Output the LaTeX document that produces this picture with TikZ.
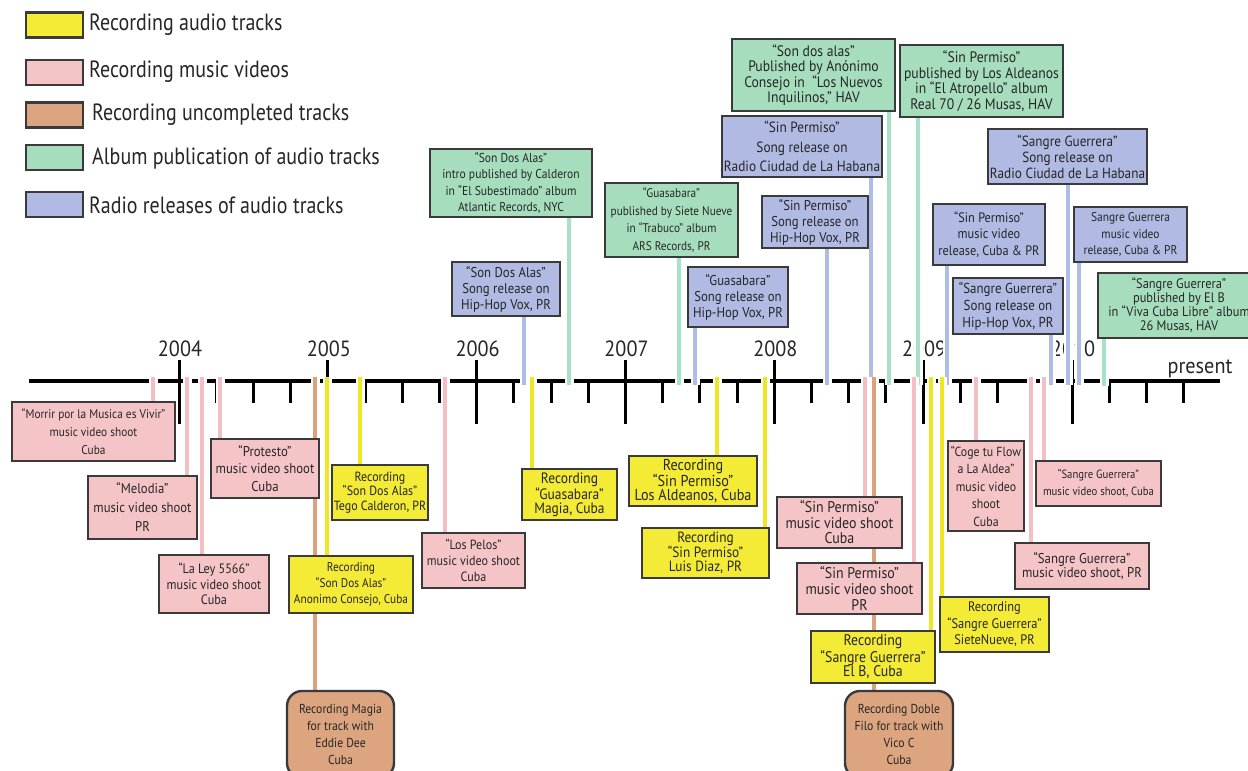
\documentclass[tikz,border=0pt]{standalone}
\usepackage{fontspec}
\newfontfamily\bxf[FakeStretch=0.9]{PT Sans}
\newfontfamily\lgf[FakeStretch=0.85]{PT Sans}
\newfontfamily\yrf[FakeStretch=0.92]{PT Sans}
\definecolor{yfill}{HTML}{F3EB35}
\definecolor{pfill}{HTML}{F5C4C6}
\definecolor{ofill}{HTML}{DCA57F}
\definecolor{gfill}{HTML}{A6DEBD}
\definecolor{bfill}{HTML}{B0BAE3}
\definecolor{yline}{HTML}{F0E624}
\definecolor{pline}{HTML}{F4BFC3}
\definecolor{oline}{HTML}{DCA27C}
\definecolor{gline}{HTML}{A8E2C6}
\definecolor{bline}{HTML}{AFBCE6}
\definecolor{bord}{HTML}{3A3A3A}
\definecolor{txt}{HTML}{262626}
\begin{document}
\begin{tikzpicture}[x=1pt,y=-1pt,
  box/.style={draw=bord, line width=2.4pt, inner sep=0pt, align=center, text=txt, font=\bxf},
  fs/.style 2 args={font=\bxf\fontsize{#1}{#2}\selectfont},
  wh/.style 2 args={minimum width=#1pt, minimum height=#2pt},
  Y/.style={box, fill=yfill},
  P/.style={box, fill=pfill},
  O/.style={box, fill=ofill, rounded corners=15pt},
  G/.style={box, fill=gfill},
  B/.style={box, fill=bfill},
  ghost/.style 2 args={minimum width=#1pt, minimum height=#2pt, inner sep=0pt, draw=none, fill=none},
  lbox/.style={draw=bord, line width=2.4pt, inner sep=0pt, minimum width=57pt, minimum height=25pt},
  ltxt/.style={anchor=west, inner sep=0pt, text=txt, font=\lgf\fontsize{23.5}{23.5}\selectfont},
  conn/.style={line width=3.5pt, preaction={draw=white, line width=9pt}},
  yc/.style={conn, draw=yline},
  pc/.style={conn, draw=pline},
  oc/.style={conn, draw=oline},
  gc/.style={conn, draw=gline},
  bc/.style={conn, draw=bline},
  tk/.style={line width=3pt, draw=black},
  yr/.style={anchor=base, inner sep=0pt, text=black!85, font=\yrf\fontsize{22}{22}\selectfont}]
\clip (0,0) rectangle (1248,771);
\fill[white] (0,0) rectangle (1248,771);

% legend
\node[lbox, fill=yfill] (ly) at (54.5,25) {};
\node[ltxt] (lyt) at (89,25) {Recording audio tracks};
\node[lbox, fill=pfill] (lp) at (54.5,72.5) {};
\node[ltxt] (lpt) at (89,72) {Recording music videos};
\node[lbox, fill=ofill] (lo) at (54.5,115) {};
\node[ltxt] (lot) at (92,115) {Recording uncompleted tracks};
\node[lbox, fill=gfill] (lg) at (54.5,157.5) {};
\node[ltxt] (lgt) at (92,158) {Album publication of audio tracks};
\node[lbox, fill=bfill] (lb) at (54.5,204.5) {};
\node[ltxt] (lbt) at (89,205) {Radio releases of audio tracks};

% axis
\coordinate (axL) at (29,381);
\coordinate (axR) at (1220,381);
\draw[line width=3.5pt] (axL) -- (axR);
\foreach \k in {0,...,27}{
  \pgfmathtruncatemacro\m{mod(\k,4)}
  \ifnum\m=0
    \draw[tk] ({179+37.21*\k},360) -- ({179+37.21*\k},424);
  \else
    \draw[tk] ({179+37.21*\k},381) -- ({179+37.21*\k},403);
  \fi
}
\foreach \y [count=\i from 0] in {2004,2005,2006,2007,2008,2009,2010}{
  \node[yr] (yr\i) at ({180+148.84*\i},356) {\y};
}
\node[yr] (pres) at (1200,373) {present};

% axis coordinates for connectors (above: ends at 385, below: starts at 377)
\coordinate (c1) at (569,385);
\coordinate (c2) at (524,385);
\coordinate (c3) at (679,385);
\coordinate (c4) at (695,385);
\coordinate (c5) at (889,385);
\coordinate (c6) at (871,385);
\coordinate (c7) at (918,385);
\coordinate (c8) at (1068,385);
\coordinate (c9) at (827,385);
\coordinate (c10) at (947,385);
\coordinate (c11) at (1051,385);
\coordinate (c12) at (1079,385);
\coordinate (c13) at (1104,386);
\coordinate (c14) at (153,377);
\coordinate (c15) at (187,377);
\coordinate (c16) at (202,377);
\coordinate (c17) at (220,377);
\coordinate (c18) at (360,377);
\coordinate (c19) at (327,377);
\coordinate (c20) at (315,377);
\coordinate (c21) at (445,377);
\coordinate (c22) at (532,377);
\coordinate (c23) at (717,377);
\coordinate (c24) at (765,377);
\coordinate (c25) at (865,377);
\coordinate (c26) at (914,377);
\coordinate (c27) at (931,377);
\coordinate (c28) at (942,377);
\coordinate (c29) at (874,377);
\coordinate (c30) at (976,377);
\coordinate (c31) at (1044,377);
\coordinate (c32) at (1031,377);

% box frames (invisible) used as connector targets; boxes are drawn on top later
\path
 node[ghost={162}{68}] (b1) at (511,183) {}
 node[ghost={108}{54}] (b2) at (506,289) {}
 node[ghost={133}{74}] (b3) at (671.5,220) {}
 node[ghost={100}{60}] (b4) at (738,297) {}
 node[ghost={163}{72}] (b5) at (813.5,75) {}
 node[ghost={160}{61}] (b6) at (802,146.5) {}
 node[ghost={163}{72}] (b7) at (981.5,81) {}
 node[ghost={159}{55}] (b8) at (1067.5,156.5) {}
 node[ghost={106}{52}] (b9) at (815,222) {}
 node[ghost={112}{61}] (b10) at (989,234.5) {}
 node[ghost={110}{56}] (b11) at (1008,306) {}
 node[ghost={113}{55}] (b12) at (1130.5,234.5) {}
 node[ghost={162}{65}] (b13) at (1179,305.5) {}
 node[ghost={163}{59}] (b14) at (93.5,431.5) {}
 node[ghost={109}{63}] (b15) at (142.5,507.5) {}
 node[ghost={110}{58}] (b16) at (214,584) {}
 node[ghost={108}{59}] (b17) at (265,468.5) {}
 node[ghost={96}{55}] (b18) at (380,492.5) {}
 node[ghost={124}{57}] (b19) at (351,584.5) {}
 node[ghost={107}{87}] (b20) at (340.5,734.5) {}
 node[ghost={103}{55}] (b21) at (473.5,560.5) {}
 node[ghost={95}{51}] (b22) at (569.5,494.5) {}
 node[ghost={128}{50}] (b23) at (693,481) {}
 node[ghost={127}{50}] (b24) at (705.5,553) {}
 node[ghost={125}{51}] (b25) at (839.5,522.5) {}
 node[ghost={125}{51}] (b26) at (859.5,588.5) {}
 node[ghost={124}{52}] (b27) at (873,657) {}
 node[ghost={109}{55}] (b28) at (994.5,624.5) {}
 node[ghost={108}{87}] (b29) at (899,734.5) {}
 node[ghost={76}{90}] (b30) at (986,486) {}
 node[ghost={125}{45}] (b31) at (1098.5,483.5) {}
 node[ghost={134}{46}] (b32) at (1082,566) {};

% connectors
\draw[gc] (b1.south -| c1) -- (c1);
\draw[bc] (b2.south -| c2) -- (c2);
\draw[gc] (b3.south -| c3) -- (c3);
\draw[bc] (b4.south -| c4) -- (c4);
\draw[bc] (b9.south -| c9) -- (c9);
\draw[bc] (b6.south -| c6) -- (c6);
\draw[gc] (b5.south -| c5) -- (c5);
\draw[gc] (b7.south -| c7) -- (c7);
\draw[bc] (b10.south -| c10) -- (c10);
\draw[bc] (b11.south -| c11) -- (c11);
\draw[bc] (b8.south -| c8) -- (c8);
\draw[bc] (b12.south -| c12) -- (c12);
\draw[gc] (b13.south -| c13) -- (c13);
\draw[pc] (c14) -- (c14 |- b14.north);
\draw[pc] (c15) -- (c15 |- b15.north);
\draw[pc] (c16) -- (c16 |- b16.north);
\draw[pc] (c17) -- (c17 |- b17.north);
\draw[oc] (c20) -- (c20 |- b20.north);
\draw[yc] (c19) -- (c19 |- b19.north);
\draw[yc] (c18) -- (c18 |- b18.north);
\draw[pc] (c21) -- (c21 |- b21.north);
\draw[yc] (c22) -- (c22 |- b22.north);
\draw[yc] (c23) -- (c23 |- b23.north);
\draw[yc] (c24) -- (c24 |- b24.north);
\draw[pc] (c25) -- (c25 |- b25.north);
\draw[oc] (c29) -- (c29 |- b29.north);
\draw[pc] (c26) -- (c26 |- b26.north);
\draw[yc] (c27) -- (c27 |- b27.north);
\draw[yc] (c28) -- (c28 |- b28.north);
\draw[pc] (c30) -- (c30 |- b30.north);
\draw[pc] (c32) -- (c32 |- b32.north);
\draw[pc] (c31) -- (c31 |- b31.north);

% boxes drawn
\node[G, wh={162}{68}, fs={12.9}{16.5}] at (b1) {“Son Dos Alas”\\intro published by Calderon\\in “El Subestimado” album\\Atlantic Records, NYC};
\node[B, wh={108}{54}, fs={14.2}{16}] at (b2) {“Son Dos Alas”\\Song release on\\Hip-Hop Vox, PR};
\node[G, wh={133}{74}, fs={12.5}{17.5}] at (b3) {“Guasabara”\\published by Siete Nueve\\in “Trabuco” album\\ARS Records, PR};
\node[B, wh={100}{60}, fs={14.2}{16}] at (b4) {“Guasabara”\\Song release on\\Hip-Hop Vox, PR};
\node[G, wh={163}{72}, fs={15.2}{15.5}] at (b5) {“Son dos alas”\\Published by Anónimo\\Consejo in \ “Los Nuevos\\Inquilinos,” HAV};
\node[B, wh={160}{61}, fs={14.8}{19.5}] at (b6) {“Sin Permiso”\\Song release on\\Radio Ciudad de La Habana};
\node[G, wh={163}{72}, fs={15.2}{15.5}] at (b7) {“Sin Permiso”\\published by Los Aldeanos\\in “El Atropello” album\\Real 70 / 26 Musas, HAV};
\node[B, wh={159}{55}, fs={14.7}{16}] at (b8) {“Sangre Guerrera”\\Song release on\\Radio Ciudad de La Habana};
\node[B, wh={106}{52}, fs={14.2}{16}] at (b9) {“Sin Permiso”\\Song release on\\Hip-Hop Vox, PR};
\node[B, wh={112}{61}, fs={13.7}{16.7}] at (b10) {“Sin Permiso”\\music video\\release, Cuba \& PR};
\node[B, wh={110}{56}, fs={14.4}{17}] at (b11) {“Sangre Guerrera”\\Song release on\\Hip-Hop Vox, PR};
\node[B, wh={113}{55}, fs={12.7}{16.7}] at (b12) {Sangre Guerrera\\music video\\release, Cuba \& PR};
\node[G, wh={162}{65}, fs={13.8}{14}] at (b13) {“Sangre Guerrera”\\published by El B\\in “Viva Cuba Libre” album\\26 Musas, HAV};
\node[P, wh={163}{59}, fs={12.6}{18}] at (b14) {“Morrir por la Musica es Vivir”\\music video shoot\\Cuba};
\node[P, wh={109}{63}, fs={14.1}{19}] at (b15) {“Melodia”\\music video shoot\\PR};
\node[P, wh={110}{58}, fs={13.6}{15.5}] at (b16) {“La Ley 5566”\\music video shoot\\Cuba};
\node[P, wh={108}{59}, fs={14.2}{17.5}] at (b17) {“Protesto”\\music video shoot\\Cuba};
\node[Y, wh={96}{55}, fs={13.3}{14.5}] at (b18) {Recording\\“Son Dos Alas”\\Tego Calderon, PR};
\node[Y, wh={124}{57}, fs={12.6}{16}] at (b19) {Recording\\“Son Dos Alas”\\Anonimo Consejo, Cuba};
\node[O, wh={107}{87}, fs={13}{17}] at (b20) {Recording Magia\\for track with\\Eddie Dee\\Cuba};
\node[P, wh={103}{55}, fs={13.4}{16}] at (b21) {“Los Pelos”\\music video shoot\\Cuba};
\node[Y, wh={95}{51}, fs={15}{14}] at (b22) {Recording\\“Guasabara”\\Magia, Cuba};
\node[Y, wh={128}{50}, fs={15.8}{14}] at (b23) {Recording\\“Sin Permiso”\\Los Aldeanos, Cuba};
\node[Y, wh={127}{50}, fs={14.8}{14}] at (b24) {Recording\\“Sin Permiso”\\Luis Diaz, PR};
\node[P, wh={125}{51}, fs={15.5}{15.5}] at (b25) {“Sin Permiso”\\music video shoot\\Cuba};
\node[P, wh={125}{51}, fs={15.5}{16}] at (b26) {“Sin Permiso”\\music video shoot\\PR};
\node[Y, wh={124}{52}, fs={15.4}{14.5}] at (b27) {Recording\\“Sangre Guerrera”\\El B, Cuba};
\node[Y, wh={109}{55}, fs={13.8}{16.5}] at (b28) {Recording\\“Sangre Guerrera”\\SieteNueve, PR};
\node[O, wh={108}{87}, fs={13}{17}] at (b29) {Recording Doble\\Filo for track with\\Vico C\\Cuba};
\node[P, wh={76}{90}, fs={13.2}{17.5}] at (b30) {“Coge tu Flow\\a La Aldea”\\music video\\shoot\\Cuba};
\node[P, wh={125}{45}, fs={11.9}{17}] at (b31) {“Sangre Guerrera”\\music video shoot, Cuba};
\node[P, wh={134}{46}, fs={14.2}{14}] at (b32) {“Sangre Guerrera”\\music video shoot, PR};
\end{tikzpicture}
\end{document}
